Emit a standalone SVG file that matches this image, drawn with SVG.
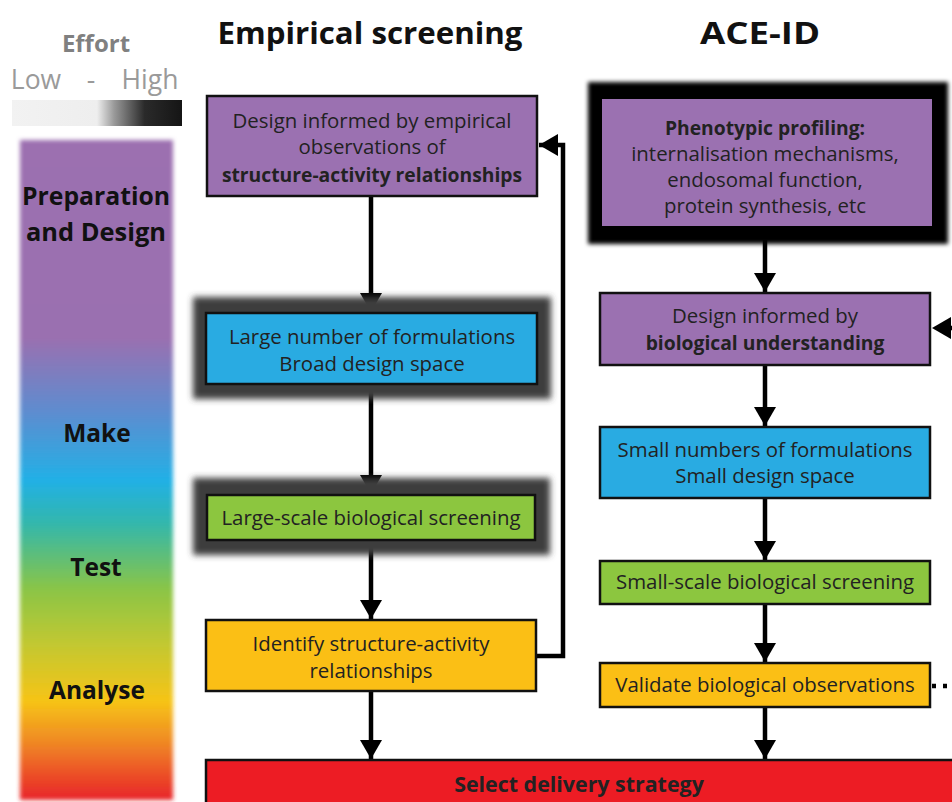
<svg xmlns="http://www.w3.org/2000/svg" width="952" height="802" viewBox="0 0 952 802">
<defs>
<linearGradient id="effort" x1="0" y1="0" x2="1" y2="0">
<stop offset="0" stop-color="#f2f2f2"/>
<stop offset="0.5" stop-color="#eeeeee"/>
<stop offset="0.6" stop-color="#9a9a9a"/>
<stop offset="0.78" stop-color="#2a2a2a"/>
<stop offset="1" stop-color="#151515"/>
</linearGradient>
<linearGradient id="phase" x1="0" y1="0" x2="0" y2="1">
<stop offset="0" stop-color="#9c70b0"/>
<stop offset="0.3" stop-color="#9a70b0"/>
<stop offset="0.41" stop-color="#5f8ccf"/>
<stop offset="0.515" stop-color="#22b0e6"/>
<stop offset="0.58" stop-color="#32b7ad"/>
<stop offset="0.68" stop-color="#8ac547"/>
<stop offset="0.765" stop-color="#c3c831"/>
<stop offset="0.85" stop-color="#f6c417"/>
<stop offset="0.91" stop-color="#f08b24"/>
<stop offset="1" stop-color="#e8232a"/>
</linearGradient>
<filter id="soft" x="-10%" y="-10%" width="120%" height="120%">
<feGaussianBlur stdDeviation="2"/>
</filter>
<filter id="glow" x="-20%" y="-40%" width="140%" height="180%">
<feGaussianBlur stdDeviation="3"/>
</filter>
<marker id="arr" markerUnits="userSpaceOnUse" markerWidth="24" markerHeight="24" viewBox="0 0 24 24" refX="22" refY="12" orient="auto">
<path d="M3,1 L22,12 L3,23 Z" fill="#000"/>
</marker>
<style>
.t{font-family:"Open Sans","Noto Sans","DejaVu Sans",sans-serif;font-size:20.4px;fill:#222;text-anchor:middle}
.b{font-weight:bold;font-size:19.3px}
.box{stroke:#111;stroke-width:2.5}
.pur{fill:#9b71b1}
.blu{fill:#29abe2}
.grn{fill:#8cc63f}
.yel{fill:#fbbf15}
.red{fill:#ed1c24}
.ph{font-family:"Open Sans","Noto Sans",sans-serif;font-weight:bold;font-size:24.5px;fill:#111;text-anchor:middle}
.hd{font-family:"Open Sans","Noto Sans",sans-serif;font-weight:bold;font-size:30px;fill:#111;text-anchor:middle}
.ln{fill:none;stroke:#000;stroke-width:4.5}
</style>
</defs>
<rect width="952" height="802" fill="#fff"/>

<g id="legend">
<text x="96" y="52" class="ph" style="fill:#808080;font-size:24px">Effort</text>
<text x="36" y="89" class="t" style="fill:#9a9a9a;font-size:26.5px">Low</text>
<text x="91" y="89" class="t" style="fill:#9a9a9a;font-size:26.5px">-</text>
<text x="150" y="89" class="t" style="fill:#9a9a9a;font-size:26.5px">High</text>
<rect x="12" y="100" width="170" height="26" fill="url(#effort)"/>
</g>

<g id="phases">
<rect x="20" y="140" width="153" height="660" fill="url(#phase)" filter="url(#soft)"/>
<text x="96" y="205" class="ph" textLength="148" lengthAdjust="spacingAndGlyphs">Preparation</text>
<text x="96" y="241" class="ph" textLength="140" lengthAdjust="spacingAndGlyphs">and Design</text>
<text x="97" y="442" class="ph">Make</text>
<text x="96" y="576" class="ph">Test</text>
<text x="97" y="699" class="ph">Analyse</text>
</g>

<g id="headers">
<text x="370" y="44" class="hd" textLength="305" lengthAdjust="spacingAndGlyphs">Empirical screening</text>
<text x="760" y="44" class="hd" textLength="120" lengthAdjust="spacingAndGlyphs">ACE-ID</text>
</g>

<g id="connectors">
<line class="ln" x1="371" y1="197" x2="371" y2="312" marker-end="url(#arr)"/>
<line class="ln" x1="371" y1="385" x2="371" y2="494" marker-end="url(#arr)"/>
<line class="ln" x1="371" y1="541" x2="371" y2="619" marker-end="url(#arr)"/>
<line class="ln" x1="371" y1="692" x2="371" y2="759" marker-end="url(#arr)"/>
<polyline class="ln" points="537,656 563,656 563,145 539,145" marker-end="url(#arr)"/>
<line class="ln" x1="765" y1="240" x2="765" y2="292" marker-end="url(#arr)"/>
<line class="ln" x1="765" y1="366" x2="765" y2="426" marker-end="url(#arr)"/>
<line class="ln" x1="765" y1="499" x2="765" y2="560" marker-end="url(#arr)"/>
<line class="ln" x1="765" y1="605" x2="765" y2="662" marker-end="url(#arr)"/>
<line class="ln" x1="765" y1="708" x2="765" y2="759" marker-end="url(#arr)"/>
<polyline class="ln" points="932,686 962,686 962,328 932,328" stroke-dasharray="4,7" marker-end="url(#arr)"/>
</g>

<g id="es-design">
<rect class="box pur" x="207" y="96" width="330" height="100"/>
<text x="372" y="128" class="t">Design informed by empirical</text>
<text x="372" y="154" class="t">observations of</text>
<text x="372" y="182" class="t b">structure-activity relationships</text>
</g>

<g id="es-make">
<rect x="193" y="297" width="358" height="102" fill="#3c3c3c" filter="url(#glow)"/>
<rect class="box blu" x="206" y="313" width="331" height="71"/>
<text x="372" y="344" class="t">Large number of formulations</text>
<text x="372" y="371" class="t">Broad design space</text>
</g>

<g id="es-test">
<rect x="193" y="478" width="357" height="77" fill="#3c3c3c" filter="url(#glow)"/>
<rect class="box grn" x="207" y="495" width="328" height="45"/>
<text x="371" y="525" class="t">Large-scale biological screening</text>
</g>

<g id="es-analyse">
<rect class="box yel" x="206" y="620" width="330" height="71"/>
<text x="371" y="651" class="t">Identify structure-activity</text>
<text x="371" y="678" class="t">relationships</text>
</g>

<g id="ace-profiling">
<rect x="588" y="82" width="360" height="162" fill="#000" filter="url(#soft)"/>
<rect x="602" y="99" width="330" height="127" class="pur"/>
<text x="765" y="135" class="t b">Phenotypic profiling:</text>
<text x="765" y="161" class="t">internalisation mechanisms,</text>
<text x="765" y="187" class="t">endosomal function,</text>
<text x="765" y="213" class="t">protein synthesis, etc</text>
</g>

<g id="ace-design">
<rect class="box pur" x="600" y="293" width="330" height="72"/>
<text x="765" y="323" class="t">Design informed by</text>
<text x="765" y="350" class="t b">biological understanding</text>
</g>

<g id="ace-make">
<rect class="box blu" x="600" y="427" width="330" height="71"/>
<text x="765" y="457" class="t">Small numbers of formulations</text>
<text x="765" y="483" class="t">Small design space</text>
</g>

<g id="ace-test">
<rect class="box grn" x="600" y="561" width="330" height="43"/>
<text x="765" y="589" class="t">Small-scale biological screening</text>
</g>

<g id="ace-analyse">
<rect class="box yel" x="600" y="663" width="330" height="44"/>
<text x="765" y="692" class="t">Validate biological observations</text>
</g>

<g id="select">
<rect class="box red" x="206" y="760" width="760" height="60"/>
<text x="579" y="792" class="t b" style="font-size:21.4px">Select delivery strategy</text>
</g>
</svg>
